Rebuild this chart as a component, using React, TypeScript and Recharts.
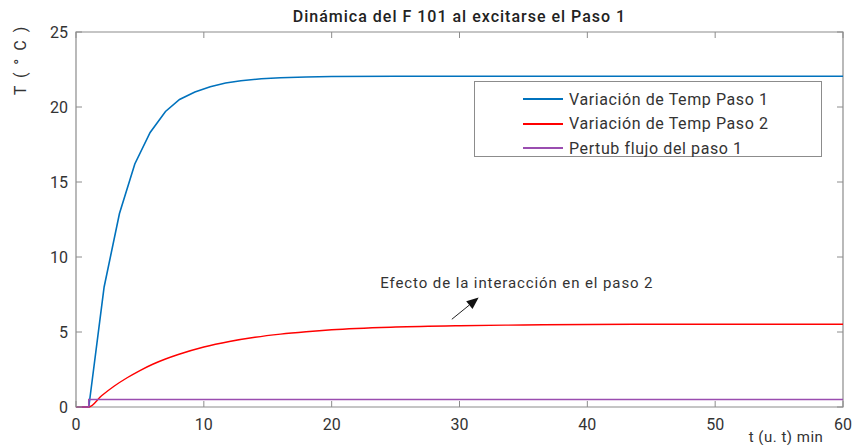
import { LineChart, Line, XAxis, YAxis, Legend, ReferenceArea, ReferenceLine, ReferenceDot } from 'recharts';

// tiempos y temperaturas
const timeStep1 = [0, 1, 2.2, 3.4, 4.6, 5.8, 7, 8.1, 9.3, 10.5, 11.7, 12.9, 14.5, 16, 18, 20, 25, 30, 40, 50, 60];
const tempStep1 = [0, 0, 8, 12.9, 16.2, 18.3, 19.7, 20.5, 21, 21.35, 21.6, 21.75, 21.88, 21.95, 22, 22.03, 22.05, 22.05, 22.05, 22.05, 22.05];

const timeStep2 = [0, 1, 2, 3, 4, 5, 6, 7, 8, 10, 12, 14, 16, 18, 20, 25, 30, 35, 40, 50, 60];
const tempStep2 = [0, 0, 0.75, 1.4, 1.95, 2.43, 2.85, 3.2, 3.5, 4.0, 4.37, 4.65, 4.86, 5.02, 5.15, 5.33, 5.42, 5.47, 5.5, 5.52, 5.52];

const timeFlow = [0, 1, 1, 60];
const flowStep1 = [0, 0, 0.5, 0.5];

const xTicks = [0, 10, 20, 30, 40, 50, 60];
const yTicks = [0, 5, 10, 15, 20, 25];

const seriesNames = ['Variación de Temp Paso 1', 'Variación de Temp Paso 2', 'Pertub flujo del paso 1'];
const seriesColors = ['#0072BD', '#FF0000', '#9A4DB0'];

const title = 'Dinámica del F 101 al excitarse el Paso 1';
const annotation = 'Efecto de la interacción en el paso 2';

const toPoints = (ts: number[], vs: number[]) => ts.map((t, i) => ({ t, v: vs[i] }));
const step1Data = toPoints(timeStep1, tempStep1);
const step2Data = toPoints(timeStep2, tempStep2);
const flowData = toPoints(timeFlow, flowStep1);

const FONT = 'Roboto, "Noto Sans", sans-serif';
const AXIS = '#8c8c8c';
const TEXT = '#333';
const PLOT_W = 767;
const PLOT_H = 375;

const YTick = (p: any) => {
  const { x, y, payload } = p;
  return (
    <g>
      <line x1={x} x2={x + 6} y1={y} y2={y} stroke={AXIS} />
      <line x1={x + PLOT_W - 6} x2={x + PLOT_W} y1={y} y2={y} stroke={AXIS} />
      <text x={x - 8} y={y} dy="0.36em" textAnchor="end" fontSize={16} fill={TEXT} fontFamily={FONT}>
        {payload.value}
      </text>
    </g>
  );
};

const XTick = (p: any) => {
  const { x, y, payload } = p;
  return (
    <g>
      <line x1={x} x2={x} y1={y} y2={y - 6} stroke={AXIS} />
      <line x1={x} x2={x} y1={y - PLOT_H} y2={y - PLOT_H + 6} stroke={AXIS} />
      <text x={x} y={y + 23} textAnchor="middle" fontSize={16} fill={TEXT} fontFamily={FONT}>
        {payload.value}
      </text>
    </g>
  );
};

const Arrow = (p: any) => {
  const { x1, y1, x2, y2 } = p;
  const a = Math.atan2(y2 - y1, x2 - x1);
  const L = 12, W = 5;
  const bx = x2 - L * Math.cos(a), by = y2 - L * Math.sin(a);
  const px = -Math.sin(a) * W, py = Math.cos(a) * W;
  return (
    <g>
      <line x1={x1} y1={y1} x2={bx} y2={by} stroke="#222" strokeWidth={1} />
      <polygon points={`${x2},${y2} ${bx + px},${by + py} ${bx - px},${by - py}`} fill="#111" />
    </g>
  );
};

const AnnotationText = (p: any) => (
  <text x={p.cx} y={p.cy} fontSize={15} fill={TEXT} fontFamily={FONT} letterSpacing={0.9}>
    {annotation}
  </text>
);

const LegendBox = () => (
  <div
    style={{
      width: 348,
      height: 76,
      border: '1px solid #8c8c8c',
      background: '#fff',
      fontFamily: FONT,
      fontSize: 16,
      letterSpacing: 0.6,
      color: TEXT,
      boxSizing: 'border-box',
      paddingTop: 5,
    }}
  >
    {seriesNames.map((n, i) => (
      <div key={n} style={{ display: 'flex', alignItems: 'center', height: 24.5 }}>
        <span style={{ display: 'inline-block', width: 40, height: 2, background: seriesColors[i], marginLeft: 48, marginRight: 6 }} />
        <span>{n}</span>
      </div>
    ))}
  </div>
);

export default function App() {
  return (
    <div style={{ position: 'absolute', left: 0, top: 0, width: 853, height: 445, background: '#fff' }}>
      <div
        style={{
          position: 'absolute', left: 76, width: 767, top: 7, textAlign: 'center',
          fontFamily: FONT, fontSize: 16, fontWeight: 500, color: '#222', letterSpacing: 1,
        }}
      >
        {title}
      </div>
      <div
        style={{
          position: 'absolute', left: 20, top: 60, transform: 'translate(-50%, -50%) rotate(-90deg)',
          fontFamily: FONT, fontSize: 16, color: TEXT, whiteSpace: 'nowrap', letterSpacing: 2,
        }}
      >
        T ( ° C )
      </div>
      <div
        style={{
          position: 'absolute', left: 786, top: 428, transform: 'translateX(-50%)',
          fontFamily: FONT, fontSize: 15, color: TEXT, whiteSpace: 'nowrap', letterSpacing: 0.5,
        }}
      >
        t (u. t) min
      </div>
      <LineChart width={853} height={445} margin={{ top: 32, right: 10, bottom: 8, left: 16 }}>
        <XAxis
          type="number"
          dataKey="t"
          domain={[0, 60]}
          ticks={xTicks}
          height={30}
          axisLine={false}
          tickLine={false}
          tickSize={0}
          tickMargin={0}
          tick={<XTick />}
          interval={0}
        />
        <YAxis
          type="number"
          domain={[0, 25]}
          ticks={yTicks}
          width={60}
          axisLine={false}
          tickLine={false}
          tickSize={0}
          tickMargin={0}
          tick={<YTick />}
          interval={0}
        />
        <ReferenceArea x1={0} x2={60} y1={0} y2={25} fill="none" stroke={AXIS} strokeWidth={1.2} />
        <Line data={step1Data} dataKey="v" name={seriesNames[0]} stroke={seriesColors[0]} strokeWidth={1.6} dot={false} type="linear" isAnimationActive={false} />
        <Line data={step2Data} dataKey="v" name={seriesNames[1]} stroke={seriesColors[1]} strokeWidth={1.4} type="monotone" dot={false} isAnimationActive={false} />
        <Line data={flowData} dataKey="v" name={seriesNames[2]} stroke={seriesColors[2]} strokeWidth={1.6} type="linear" dot={false} isAnimationActive={false} />
        <ReferenceLine segment={[{ x: 29.4, y: 5.85 }, { x: 31.5, y: 7.3 }]} shape={<Arrow />} />
        <ReferenceDot x={23.8} y={7.95} r={0} shape={<AnnotationText />} />
        <Legend
          layout="vertical"
          align="center"
          verticalAlign="middle"
          content={<LegendBox />}
          wrapperStyle={{ position: 'absolute', left: 474, top: 81, width: 348, height: 76 }}
        />
      </LineChart>
    </div>
  );
}
